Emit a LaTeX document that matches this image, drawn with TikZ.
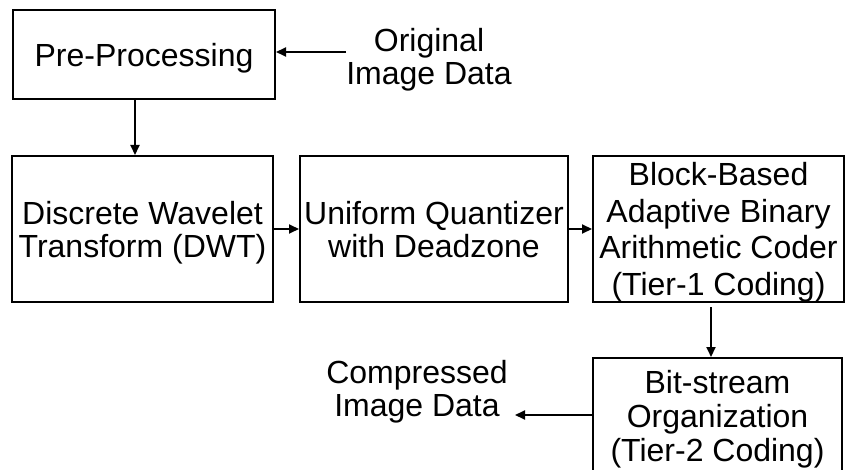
\documentclass[tikz,border=0pt]{standalone}
\usepackage{fontspec}
\setmainfont{Liberation Sans}
\usetikzlibrary{arrows.meta}
\begin{document}
\begin{tikzpicture}[x=1pt,y=-1pt,
  stage/.style={draw,line width=2pt,inner sep=0pt,align=center,text depth=0pt,
    font=\fontsize{32}{33}\selectfont},
  label/.style={inner sep=0pt,align=center,text depth=0pt,
    font=\fontsize{32}{33}\selectfont},
  arr/.style={line width=2pt,-{Triangle[length=10pt,width=9pt]}}]
\useasboundingbox (0,0) rectangle (845,470);

% processing stages
\node[stage,minimum width=262pt,minimum height=89pt] (pre) at (144,54.5) {Pre-Processing};
\node[stage,minimum width=261pt,minimum height=146pt] (dwt) at (142.5,229) {Discrete Wavelet\\Transform (DWT)};
\node[stage,minimum width=268pt,minimum height=146pt] (quant) at (434,229) {Uniform Quantizer\\with Deadzone};
\node[stage,minimum width=251pt,minimum height=146pt,
  font=\fontsize{32}{36.5}\selectfont] (block) at (718.5,229)
  {Block-Based\\Adaptive Binary\\Arithmetic Coder\\(Tier-1 Coding)};
\node[stage,minimum width=249pt,minimum height=116pt,
  font=\fontsize{32}{34}\selectfont] (bits) at (717.5,416)
  {Bit-stream\\Organization\\(Tier-2 Coding)};

% input and output labels
\node[label] (orig) at (429,56) {Original\\Image Data};
\node[label] (comp) at (417,388.5) {Compressed\\Image Data};

% connector anchors
\coordinate (inpt) at (346,52);
\coordinate (outpt) at (515,415);
\coordinate (xa) at (135,0);
\coordinate (xb) at (711,0);

% connectors
\draw[arr] (inpt) -- (inpt -| pre.east);
\draw[arr] (pre.south -| xa) -- (dwt.north -| xa);
\draw[arr] (dwt.east) -- (quant.west);
\draw[arr] (quant.east) -- (block.west);
\draw[arr,shorten <=4pt] (block.south -| xb) -- (bits.north -| xb);
\draw[arr] (bits.west |- outpt) -- (outpt);
\end{tikzpicture}
\end{document}
